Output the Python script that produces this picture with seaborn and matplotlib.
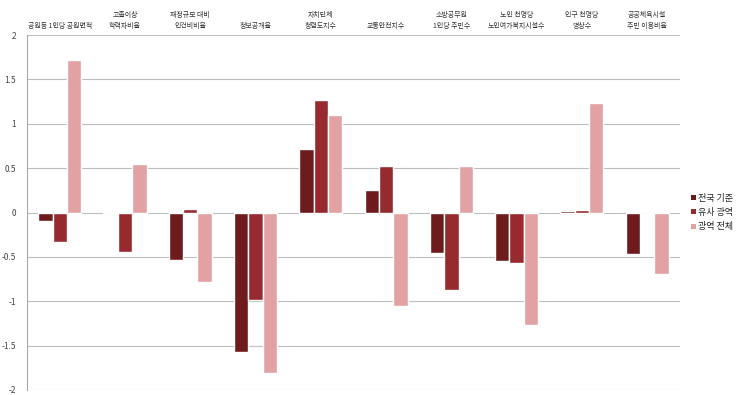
import matplotlib
matplotlib.use("Agg")
import matplotlib.pyplot as plt
import seaborn as sns
import pandas as pd
from matplotlib.patches import Patch

# indicators (x categories)
categories = [
    "공원등 1인당 공원면적",
    "고졸이상\n학력자비율",
    "재정규모 대비\n인건비비율",
    "정보공개율",
    "자치단체\n청렴도지수",
    "교통안전지수",
    "소방공무원\n1인당 주민수",
    "노인 천명당\n노인여가복지시설수",
    "인구 천명당\n병상수",
    "공공체육시설\n주민 이용비율",
]
series = ["전국 기준", "유사 광역", "광역 전체"]

national = [-0.10, 0.01, -0.53, -1.57, 0.72, 0.25, -0.46, -0.55, 0.02, -0.47]
similar = [-0.33, -0.45, 0.04, -0.99, 1.27, 0.53, -0.87, -0.57, 0.03, 0.00]
all_metro = [1.72, 0.55, -0.78, -1.81, 1.10, -1.05, 0.53, -1.27, 1.24, -0.69]

colors = ["#6e1b1e", "#962a2e", "#e2a2a4"]

df = pd.DataFrame({
    "cat": categories * 3,
    "series": [s for s in series for _ in categories],
    "value": national + similar + all_metro,
})

sns.set_theme(style="white")
plt.rcParams["font.family"] = ["Noto Sans CJK KR", "DejaVu Sans"]

fig = plt.figure(figsize=(7.52, 3.95), dpi=100)
ax = fig.add_axes([0.036, 0.013, 0.868, 0.898])

sns.barplot(data=df, x="cat", y="value", hue="series", palette=colors,
            width=0.66, gap=0, saturation=1, ax=ax, legend=False)

ax.set_ylim(-2, 2)
ax.set_xlim(-0.5, len(categories) - 0.5)
ax.set_yticks([-2, -1.5, -1, -0.5, 0, 0.5, 1, 1.5, 2])
ax.set_yticklabels(["-2", "-1.5", "-1", "-0.5", "0", "0.5", "1", "1.5", "2"],
                   fontsize=6, color="#444444")
ax.tick_params(axis="y", length=0, pad=8)
ax.set_xticks([])
ax.set_xlabel("")
ax.set_ylabel("")
ax.yaxis.grid(True, color="#bdbdbd", linewidth=0.8)
ax.set_axisbelow(True)
for side in ["top", "right", "bottom"]:
    ax.spines[side].set_visible(False)
ax.spines["left"].set_color("#aaaaaa")
ax.spines["left"].set_linewidth(0.8)

# category labels above the plot
for i, lab in enumerate(categories):
    ax.text(i, 2.06, lab, ha="center", va="bottom", fontsize=5,
            color="#333333", linespacing=1.5, clip_on=False)

handles = [Patch(facecolor=c, edgecolor="none") for c in colors]
ax.legend(handles, series, loc="center left", bbox_to_anchor=(1.005, 0.5),
          frameon=False, fontsize=6.5, handlelength=0.5, handleheight=0.5,
          handletextpad=0.3, labelspacing=0.6)

fig.savefig("out.png", dpi=100)
